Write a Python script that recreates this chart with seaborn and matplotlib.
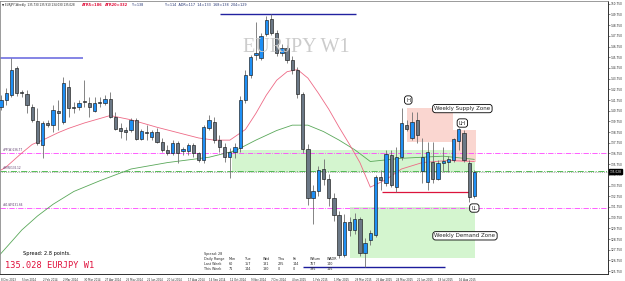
import numpy as np
import pandas as pd
import matplotlib
matplotlib.use("Agg")
import matplotlib.pyplot as plt
from matplotlib.patches import Rectangle
import seaborn as sns

# EURJPY weekly bars, Dec 2013 - Sep 2015
opens = [141.10, 141.75, 142.22, 144.75, 142.50, 142.32, 141.10, 139.79, 137.55, 139.60,
         139.42, 140.73, 139.70, 142.97, 141.10, 141.10, 141.66, 141.48, 140.73, 141.57,
         141.48, 141.85, 140.17, 139.14, 138.95, 138.95, 139.88, 138.11, 138.76, 138.30,
         138.76, 137.83, 137.08, 136.80, 137.74, 136.99, 136.99, 137.55, 136.80, 136.15,
         139.14, 139.70, 138.02, 137.36, 136.43, 136.89, 137.27, 141.75, 144.09, 145.96,
         145.68, 147.92, 149.33, 148.02, 146.15, 146.62, 145.50, 144.60, 142.30, 137.20,
         132.60, 133.20, 135.30, 134.40, 132.60, 131.00, 127.30, 130.30, 129.60, 130.60,
         127.40, 128.67, 129.13, 134.56, 134.00, 136.61, 133.62, 136.43, 139.42, 138.20,
         139.88, 135.12, 134.09, 136.00, 134.37, 135.87, 135.96, 136.15, 137.90, 138.67,
         135.87, 132.78]
highs = [142.22, 142.88, 145.68, 144.93, 142.69, 142.69, 141.38, 141.01, 139.79, 139.88,
         141.29, 141.75, 143.91, 143.63, 141.57, 141.75, 143.63, 142.04, 142.04, 142.04,
         142.22, 142.50, 140.64, 139.60, 139.23, 140.07, 140.07, 139.04, 139.42, 138.95,
         139.14, 138.20, 137.55, 138.02, 137.92, 137.36, 137.74, 137.74, 136.89, 139.42,
         140.35, 140.17, 138.48, 137.74, 137.27, 137.74, 142.13, 144.56, 145.96, 149.00,
         148.02, 149.61, 149.78, 148.30, 146.99, 146.90, 145.90, 144.80, 142.50, 137.60,
         133.80, 135.60, 136.20, 134.80, 133.10, 131.40, 131.10, 130.80, 131.20, 130.80,
         128.80, 129.60, 134.74, 135.21, 137.08, 137.08, 137.36, 141.05, 139.88, 140.64,
         140.64, 138.20, 137.83, 137.83, 136.15, 137.36, 136.52, 138.20, 139.14, 138.95,
         136.15, 135.21]
lows = [140.82, 141.29, 142.04, 142.13, 142.04, 140.54, 139.70, 137.55, 136.33, 139.23,
        138.76, 138.95, 139.51, 140.17, 140.54, 140.82, 141.10, 140.17, 140.64, 141.10,
        141.29, 140.07, 138.95, 138.20, 138.02, 138.76, 138.02, 138.02, 138.02, 138.02,
        137.74, 136.89, 136.61, 136.61, 135.87, 136.61, 136.61, 136.43, 135.96, 135.87,
        138.95, 137.74, 136.89, 135.96, 134.46, 136.33, 136.89, 141.48, 143.81, 145.50,
        145.50, 147.74, 147.83, 145.87, 145.87, 145.21, 144.20, 141.90, 136.80, 131.90,
        130.20, 132.80, 133.80, 131.80, 130.40, 127.00, 127.10, 129.00, 129.20, 127.20,
        126.10, 128.20, 128.94, 133.34, 133.71, 133.62, 133.15, 136.15, 138.86, 138.02,
        137.74, 134.00, 133.34, 134.00, 134.28, 135.03, 135.03, 135.96, 137.08, 135.96,
        132.22, 132.59]
closes = [141.75, 142.41, 144.56, 142.41, 142.41, 141.29, 139.88, 137.74, 139.60, 139.42,
          140.82, 140.54, 143.35, 141.01, 141.01, 141.48, 141.57, 141.10, 141.48, 141.48,
          141.85, 140.17, 139.04, 138.86, 138.76, 139.88, 138.11, 138.86, 138.67, 138.76,
          137.83, 137.08, 136.80, 137.74, 136.80, 137.17, 137.55, 136.80, 136.15, 139.23,
          139.88, 138.02, 137.36, 136.43, 136.89, 137.36, 141.75, 144.09, 145.77, 146.15,
          147.74, 149.24, 148.02, 146.15, 146.62, 145.50, 144.60, 142.30, 137.20, 132.60,
          133.20, 135.20, 134.40, 132.60, 131.00, 127.30, 130.30, 129.60, 130.60, 127.40,
          128.40, 129.30, 134.56, 134.28, 136.71, 133.81, 136.43, 139.60, 139.04, 139.70,
          138.48, 136.43, 136.89, 134.37, 135.87, 136.05, 136.24, 138.11, 139.04, 136.15,
          132.69, 135.028]

date_labels = ["8 Dec 2013", "5 Jan 2014", "2 Feb 2014", "2 Mar 2014", "30 Mar 2014",
               "27 Apr 2014", "25 May 2014", "22 Jun 2014", "20 Jul 2014", "17 Aug 2014",
               "14 Sep 2014", "12 Oct 2014", "9 Nov 2014", "7 Dec 2014", "4 Jan 2015",
               "1 Feb 2015", "1 Mar 2015", "29 Mar 2015", "26 Apr 2015", "24 May 2015",
               "21 Jun 2015", "19 Jul 2015", "16 Aug 2015"]
price_ticks = np.arange(125.75, 151.0, 1.0)

# moving averages (sampled from the drawn lines)
ma_fast_bar = [0, 1, 4, 6, 8, 11, 13, 16, 21, 25, 30, 34, 38, 41, 44, 47, 49, 51, 53, 55,
               57, 59, 61, 63, 65, 67, 69, 71, 74, 77, 81, 86, 91]
ma_fast = [135.2, 135.5, 136.8, 137.6, 138.0, 138.7, 139.1, 139.6, 140.3, 139.9, 139.2,
           138.7, 138.2, 138.0, 138.0, 139.0, 140.5, 142.2, 143.6, 144.4, 144.6, 143.8,
           142.4, 140.9, 139.2, 137.6, 135.9, 133.6, 134.3, 135.3, 135.9, 136.1, 136.0]
ma_slow_bar = [-0.2, 2, 4, 7, 10, 14, 19, 25, 32, 40, 45, 49, 53, 56, 59, 62, 65, 68, 71,
               77, 85, 91]
ma_slow = [127.3, 128.5, 129.6, 130.9, 132.0, 133.2, 134.2, 135.3, 135.9, 136.4, 137.0,
           138.0, 138.9, 139.4, 139.4, 138.8, 138.0, 137.1, 136.0, 136.3, 136.5, 136.2]

last_price = 135.028
pivot_w, r_w, s1_w = 136.77, 135.12, 131.66

sns.set_style("white")
plt.rcParams["font.family"] = ["DejaVu Sans"]

fig = plt.figure(figsize=(6.25, 2.81), dpi=100)
ax = fig.add_axes([0, 1 - 274 / 281, 608 / 625, 273 / 281])
ax.set_xlim(-0.2, 116.7)
ax.set_ylim(125.48, 151.01)

# zones
ax.add_patch(Rectangle((44.4, 135.05), 91.2 - 44.4, 137.08 - 135.05, fc="#d4f5cf", ec="none", zorder=0.5))
ax.add_patch(Rectangle((67.1, 126.98), 91.2 - 67.1, 131.75 - 126.98, fc="#d4f5cf", ec="none", zorder=0.5))
ax.add_patch(Rectangle((78.1, 137.83), 86.9 - 78.1, 141.0 - 137.83, fc="#fad6d0", ec="none", zorder=0.6))
ax.add_patch(Rectangle((86.9, 135.96), 91.3 - 86.9, 138.95 - 135.96, fc="#fad6d0", ec="none", zorder=0.6))

# levels
ax.axhline(pivot_w, color="#ff44ff", lw=0.6, ls="-.", zorder=1)
ax.axhline(s1_w, color="#ff44ff", lw=0.6, ls="-.", zorder=1)
ax.axhline(r_w, color="#55bb55", lw=0.7, ls="-.", zorder=1)
ax.axhline(last_price, color="#666666", lw=0.5, ls=":", zorder=1)
ax.hlines(145.68, -0.2, 15.8, color="#7070e0", lw=1.2, zorder=2)
ax.hlines(149.82, 42.1, 68.3, color="#2222a0", lw=1.0, zorder=2)
ax.hlines(126.10, 58.1, 85.4, color="#1c1c9c", lw=1.0, zorder=2)
ax.hlines(133.12, 73.3, 90.2, color="#dc143c", lw=0.9, zorder=2)

# moving averages
sns.lineplot(x=ma_slow_bar, y=ma_slow, ax=ax, color="#5aa85a", lw=0.6, zorder=2)
sns.lineplot(x=ma_fast_bar, y=ma_fast, ax=ax, color="#ee6a86", lw=0.6, zorder=2)

# candles
df = pd.DataFrame({"open": opens, "high": highs, "low": lows, "close": closes})
df["bar"] = np.arange(len(df))
up = df["close"] >= df["open"]
ax.vlines(df["bar"], df["low"], df["high"], color="#707070", lw=0.6, zorder=3)
body_lo = df[["open", "close"]].min(axis=1)
body_h = (df["close"] - df["open"]).abs().clip(lower=0.08)
ax.bar(df["bar"], body_h, bottom=body_lo, width=0.62,
       color=np.where(up, "#1e8ff5", "#6b7886"), edgecolor="#1a1a1a", linewidth=0.45, zorder=4)

# level captions on the left
for lvl, txt in [(pivot_w, "#PP(W)136.77"), (r_w, "#R(W)135.12"), (s1_w, "#S1(W)131.66")]:
    ax.text(0.4, lvl + 0.12, txt, fontsize=2.0, color="#553366", va="bottom", zorder=5)

# boxed labels
box = dict(boxstyle="round,pad=0.3,rounding_size=0.5", fc="white", ec="black", lw=0.6)
for bx, by, txt in [(78.3, 141.75, "H"), (88.7, 140.95, "Weekly Supply Zone"),
                    (88.7, 139.6, "LH"), (91.0, 131.65, "LL"), (89.2, 129.05, "Weekly Demand Zone")]:
    ax.text(bx, by, txt, fontsize=4.0, ha="center", va="center", bbox=box, zorder=6)

# axes look
for side in ["top", "left"]:
    ax.spines[side].set_color("#8a8a8a")
    ax.spines[side].set_linewidth(0.6)
for side in ["right", "bottom"]:
    ax.spines[side].set_color("#303030")
    ax.spines[side].set_linewidth(0.7)
ax.yaxis.tick_right()
ax.set_yticks(price_ticks)
ax.set_yticklabels([f"{v:.3f}" for v in price_ticks])
ax.tick_params(axis="y", direction="out", length=1.5, width=0.4, labelsize=2.1, pad=0.6, color="#303030")
ax.set_xticks(np.arange(0, 89, 4))
ax.set_xticklabels(date_labels, ha="left", fontsize=1.9)
ax.tick_params(axis="x", direction="out", length=2, width=0.4, pad=0.6, color="#303030")
ax.text(1.002, last_price, f"{last_price:.3f}", transform=ax.get_yaxis_transform(),
        ha="left", va="center", fontsize=2.1, color="white",
        bbox=dict(boxstyle="square,pad=0.15", fc="black", ec="black"), zorder=7)

# watermark and info texts
fig.text(296 / 625, 1 - 47 / 281, "EURJPY W1", fontsize=14.5, family="Liberation Serif",
         color="#cccccc", ha="center", va="center", zorder=0)
fig.text(2 / 625, 1 - 5 / 281, "\u25bc EURJPY,Weekly  135.730 135.910 134.030 135.028",
         fontsize=2.0, color="#202020", va="center")
fig.text(82 / 625, 1 - 5 / 281, "ATR5=186", fontsize=2.6, color="#e0103c", weight="bold", va="center")
fig.text(105 / 625, 1 - 5 / 281, "ATR20=332", fontsize=2.6, color="#e0103c", weight="bold", va="center")
fig.text(132 / 625, 1 - 5 / 281, "Y=138", fontsize=2.4, color="#203070", va="center")
fig.text(165 / 625, 1 - 5 / 281, "Y=114  ADR=117  14=133  168=138  204=129", fontsize=2.4,
         color="#203070", va="center")

fig.text(23 / 625, 1 - 254 / 281, "Spread: 2.8 points.", fontsize=3.6, color="black", va="center")
fig.text(5 / 625, 1 - 265 / 281, "135.028 EURJPY W1", fontsize=6.2, family="DejaVu Sans Mono",
         color="#e0103c", va="center")

# daily range table
fig.text(204 / 625, 1 - 254 / 281, "Spread: 28", fontsize=2.4, va="center")
cols_x = [204, 229, 245, 263, 278, 293, 310, 327]
rows = [["Daily Range", "Mon", "Tue", "Wed", "Thu", "Fri", "WSum", "WADR"],
        ["Last Week", "60", "157", "181", "225", "144", "767", "140"],
        ["This Week", "71", "144", "180", "0", "0", "395", "145"]]
for r, row in enumerate(rows):
    for cx, cell in zip(cols_x, row):
        fig.text(cx / 625, 1 - (259 + 5 * r) / 281, cell, fontsize=2.4, va="center")

fig.savefig("out.png", dpi=100, facecolor="white")
